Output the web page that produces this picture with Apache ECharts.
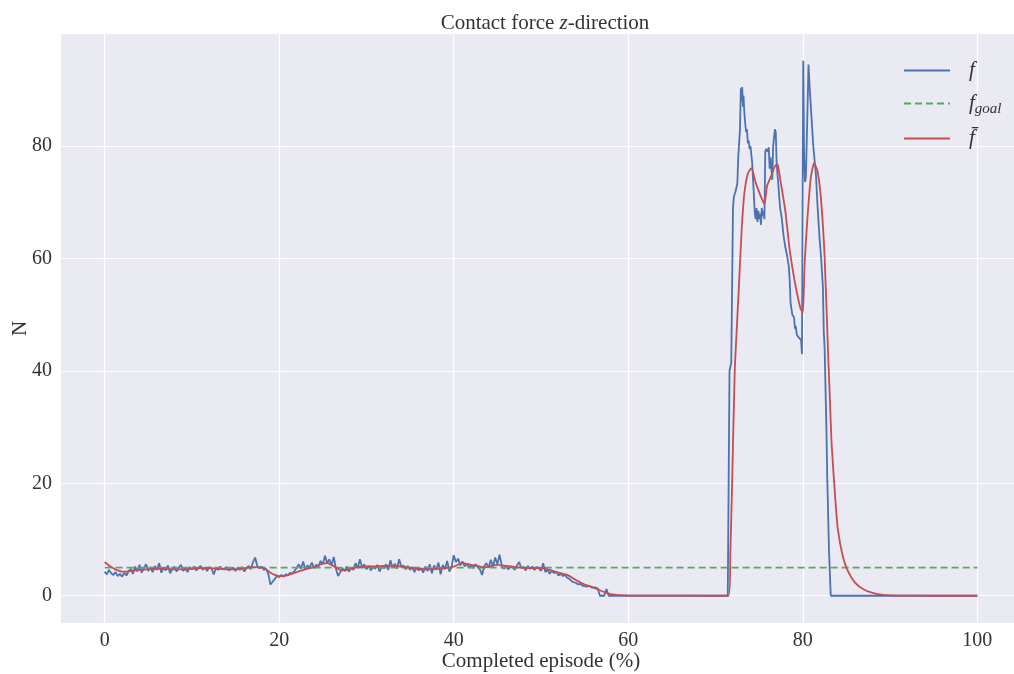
<!DOCTYPE html>
<html>
<head>
<meta charset="utf-8">
<script src="https://cdn.jsdelivr.net/npm/echarts@6/dist/echarts.min.js"></script>
<style>
  html, body { margin: 0; padding: 0; background: #fff; }
  #myChart { width: 1014px; height: 674px; }
</style>
</head>
<body>
<div id="myChart"></div>
<script>
// contact force f, sampled every 0.25 % of the episode from 0 to 57.75
var fStep = 0.25
var fLow = [
  4.3, 3.8, 4.6, 4.0, 3.7, 4.2, 3.5, 3.9, 3.4, 4.1, 3.6, 4.4, 4.8, 3.9, 5.2, 4.3, 5.5, 4.1, 4.9, 5.6,
  4.4, 5.1, 4.2, 5.3, 4.6, 5.8, 4.1, 5.0, 4.5, 5.4, 4.0, 4.8, 5.2, 4.3, 5.0, 5.5, 4.4, 4.9, 4.2, 5.1,
  4.7, 5.2, 4.5, 4.9, 5.3, 4.6, 5.0, 4.4, 5.1, 4.8, 3.8, 4.9, 4.6, 5.2, 4.7, 4.9, 5.1, 4.5, 4.8, 5.0,
  4.4, 5.0, 4.6, 5.1, 4.3, 4.9, 5.3, 4.7, 6.0, 6.8, 5.2, 4.9, 5.2, 4.6, 4.8, 3.9, 2.0, 2.5, 3.0, 3.5,
  3.3, 3.7, 3.4, 3.8, 3.6, 4.1, 3.9, 4.4, 4.9, 5.6, 4.8, 6.1, 4.7, 5.4, 5.0, 5.9, 4.9, 5.5, 5.2, 6.2,
  5.6, 7.1, 5.8, 6.5, 5.4, 6.9, 4.8, 3.5, 4.2, 4.9, 4.4, 5.2, 4.3, 5.0, 4.6, 5.8, 4.9, 6.5, 5.0, 5.6,
  4.7, 5.3, 4.5, 5.1, 4.8, 5.5, 4.3, 5.2, 4.9, 5.6, 4.6, 6.3, 5.0, 5.7, 4.8, 6.5, 5.1, 5.4, 4.7, 5.3,
  4.6, 5.1, 4.2, 5.0, 4.5, 4.9, 4.1, 5.2, 4.4, 5.6, 4.0, 5.4, 4.6, 5.9, 3.8, 5.5, 4.7, 6.2, 4.3, 5.1,
  7.2, 6.0, 6.6, 5.4, 6.1, 5.2, 5.7, 5.0, 5.5, 4.9, 5.6, 5.1, 4.7, 3.7, 5.3, 5.8, 5.0, 6.4, 5.2, 6.8,
  5.6, 7.3, 5.4, 4.8, 5.3, 4.7, 5.2, 5.0, 4.6, 5.4, 6.0, 4.9, 5.1, 4.5, 5.3, 4.8, 5.2, 4.6, 5.1, 4.9,
  4.4, 5.8, 4.2, 4.6, 3.9, 4.5, 4.0, 4.3, 3.6, 3.9, 3.5, 3.7, 3.2, 3.0, 2.6, 2.4, 2.3, 2.0, 2.1, 1.8,
  1.7, 1.6, 1.8, 1.5, 1.4, 1.5, 1.3, 0, 0, 0, 1.2, 0
]
// contact force f, rest of the episode [x, y]
var fHigh = [
  [58, 0], [71.4, 0], [71.6, 40], [71.8, 41.5], [72.0, 69], [72.1, 71], [72.3, 72], [72.5, 73.4],
  [72.6, 78], [72.8, 83], [72.9, 90.3], [73.0, 88], [73.05, 90.5], [73.15, 87], [73.2, 89], [73.3, 86],
  [73.4, 84], [73.5, 82.5], [73.6, 83], [73.7, 80.5], [73.8, 81], [73.9, 79.5], [74.0, 80], [74.2, 77],
  [74.3, 74], [74.5, 68], [74.6, 67], [74.7, 69], [74.8, 66.5], [74.9, 68.5], [75.0, 67], [75.1, 68],
  [75.2, 66], [75.3, 69], [75.4, 67.5], [75.5, 68.5], [75.6, 67], [75.7, 79], [75.8, 79.5], [76.0, 79],
  [76.1, 79.8], [76.2, 76], [76.3, 78], [76.5, 74], [76.6, 80], [76.8, 83], [76.9, 82.5], [77.0, 77],
  [77.2, 73], [77.4, 69], [77.6, 67], [77.8, 64], [78.0, 62], [78.2, 60.5], [78.4, 58.5], [78.5, 56],
  [78.6, 52], [78.8, 50], [79.0, 49.5], [79.1, 47.5], [79.2, 48], [79.3, 46.5], [79.5, 46], [79.7, 46],
  [79.8, 45.5], [79.9, 43], [80.0, 42.8], [80.05, 95.2], [80.15, 78], [80.25, 73.6], [80.35, 74.5],
  [80.5, 84], [80.65, 94.5], [80.8, 90], [81.0, 85], [81.2, 80], [81.5, 75], [81.7, 69], [81.9, 64],
  [82.1, 60], [82.3, 55], [82.4, 47], [82.5, 44], [82.7, 30], [82.8, 21], [83.0, 8], [83.2, 0], [100, 0]
]
// goal force
var fGoal = [[0, 5], [100, 5]]
// filtered force f-bar
var fBar = [
  [0, 6.0], [0.5, 5.4], [1, 4.9], [1.5, 4.5], [2, 4.3], [2.5, 4.3], [3, 4.4], [4, 4.6], [5, 4.7],
  [6, 4.8], [7, 4.8], [8, 4.7], [9, 4.7], [10, 4.8], [11, 4.9], [12, 4.9], [13, 4.8], [14, 4.7],
  [15, 4.7], [16, 4.9], [17, 5.1], [18, 5.0], [18.5, 4.7], [19, 4.1], [19.5, 3.7], [20, 3.5],
  [20.5, 3.5], [21, 3.7], [22, 4.2], [23, 4.7], [24, 5.1], [25, 5.7], [25.5, 5.8], [26, 5.5],
  [26.5, 5.0], [27, 4.6], [27.5, 4.5], [28, 4.7], [29, 5.1], [30, 5.2], [31, 5.2], [32, 5.3],
  [33, 5.3], [34, 5.2], [35, 5.0], [36, 4.8], [37, 4.7], [38, 4.8], [39, 4.9], [40, 5.2], [41, 5.8],
  [42, 5.5], [43, 5.2], [43.5, 5.0], [44, 5.2], [45, 5.5], [46, 5.3], [47, 5.1], [48, 5.0], [49, 4.9],
  [50, 4.9], [51, 4.6], [52, 4.1], [53, 3.7], [54, 2.8], [55, 2.0], [56, 1.5], [57, 0.8], [58, 0.3],
  [59, 0.1], [60, 0.02], [71.5, 0], [71.7, 8], [71.9, 20], [72.2, 40], [72.6, 52.6], [73.0, 65.3],
  [73.3, 71.6], [73.7, 75.1], [74.1, 76.1], [74.6, 73.5], [75.2, 71], [75.6, 69.7], [75.9, 72.9],
  [76.4, 74.8], [76.8, 76.4], [77.1, 76.8], [77.4, 74.2], [78.0, 68.4], [78.5, 61.5], [79.1, 55.7],
  [79.7, 51.3], [80.0, 50.3], [80.2, 58.9], [80.5, 66.5], [80.9, 74.2], [81.3, 77], [81.7, 75.4],
  [82.1, 70.3], [82.5, 60.2], [82.9, 43], [83.1, 35], [83.3, 27], [83.7, 17.7], [84.0, 12],
  [84.6, 6.9], [85.2, 4.3], [86, 2.3], [87, 1.1], [88, 0.5], [89, 0.2], [90, 0.08], [92, 0.01], [100, 0]
]
var xTicks = [0, 20, 40, 60, 80, 100]
var yTicks = [0, 20, 40, 60, 80]

var fontSerif = 'Liberation Serif'
var textColor = '#333'

var fData = fLow.map(function (v, i) { return [i * fStep, v] }).concat(fHigh)

var richText = {
  pad: { width: 14 },
  it: { fontFamily: fontSerif, fontStyle: 'italic', fontSize: 21, color: textColor },
  sub: { fontFamily: fontSerif, fontStyle: 'italic', fontSize: 15, color: textColor, padding: [12, 0, 0, 0] }
}
var legendNames = { f: '{pad|}{it|f}', fgoal: '{pad|}{it|f}{sub|goal}', fbar: '{pad|}{it|f\u0304}' }

function makeLegend (name, top) {
  return {
    data: [name],
    left: 898,
    top: top,
    orient: 'vertical',
    itemWidth: 46,
    itemHeight: 14,
    itemStyle: { opacity: 0 },
    formatter: function (n) { return legendNames[n] },
    textStyle: { rich: richText }
  }
}

var myChart = echarts.init(document.getElementById('myChart'))
var option = {
  backgroundColor: '#fff',
  animation: false,
  title: {
    text: 'Contact force {it|z}-direction',
    left: 540,
    textAlign: 'center',
    top: 8,
    textStyle: {
      fontFamily: fontSerif,
      fontWeight: 'normal',
      fontSize: 21,
      color: textColor,
      rich: {
        it: { fontFamily: fontSerif, fontStyle: 'italic', fontSize: 21, color: textColor }
      }
    }
  },
  legend: [makeLegend('f', 55), makeLegend('fgoal', 88), makeLegend('fbar', 123)],
  grid: {
    show: true,
    left: 61,
    top: 34,
    width: 960,
    height: 589,
    outerBoundsMode: 'none',
    containLabel: false,
    backgroundColor: '#EAEAF2',
    borderWidth: 0
  },
  xAxis: {
    type: 'value',
    min: -5,
    max: 105,
    minInterval: 20,
    maxInterval: 20,
    name: 'Completed episode (%)',
    nameLocation: 'middle',
    nameGap: 28,
    nameMoveOverlap: false,
    nameTextStyle: { fontFamily: fontSerif, fontSize: 21, color: textColor },
    axisLine: { show: false },
    axisTick: { show: false },
    axisLabel: {
      margin: 8,
      fontFamily: fontSerif,
      fontSize: 20,
      color: textColor,
      showMinLabel: false,
      showMaxLabel: false,
      formatter: function (v) { return xTicks.indexOf(v) >= 0 ? String(v) : '' }
    },
    splitLine: { show: true, showMinLine: false, showMaxLine: false, lineStyle: { color: '#fff', width: 1.2 } }
  },
  yAxis: {
    type: 'value',
    min: -4.85,
    max: 99.95,
    minInterval: 20,
    maxInterval: 20,
    name: 'N',
    nameLocation: 'middle',
    nameGap: 30,
    nameMoveOverlap: false,
    nameTextStyle: { fontFamily: fontSerif, fontSize: 21, color: textColor },
    axisLine: { show: false },
    axisTick: { show: false },
    axisLabel: {
      margin: 9,
      fontFamily: fontSerif,
      fontSize: 20,
      color: textColor,
      showMinLabel: false,
      showMaxLabel: false,
      formatter: function (v) { return yTicks.indexOf(v) >= 0 ? String(v) : '' }
    },
    splitLine: { show: true, showMinLine: false, showMaxLine: false, lineStyle: { color: '#fff', width: 1.2 } }
  },
  series: [
    {
      name: 'f',
      type: 'line',
      data: fData,
      symbol: 'none',
      lineStyle: { color: '#4C72B0', width: 1.8 },
      itemStyle: { color: '#4C72B0' }
    },
    {
      name: 'fgoal',
      type: 'line',
      data: fGoal,
      symbol: 'none',
      lineStyle: { color: '#55A868', width: 1.6, type: [7, 4] },
      itemStyle: { color: '#55A868' }
    },
    {
      name: 'fbar',
      type: 'line',
      data: fBar,
      symbol: 'none',
      smooth: 0.2,
      lineStyle: { color: '#C44E52', width: 1.8 },
      itemStyle: { color: '#C44E52' }
    }
  ]
}
myChart.setOption(option, true)
</script>
</body>
</html>
